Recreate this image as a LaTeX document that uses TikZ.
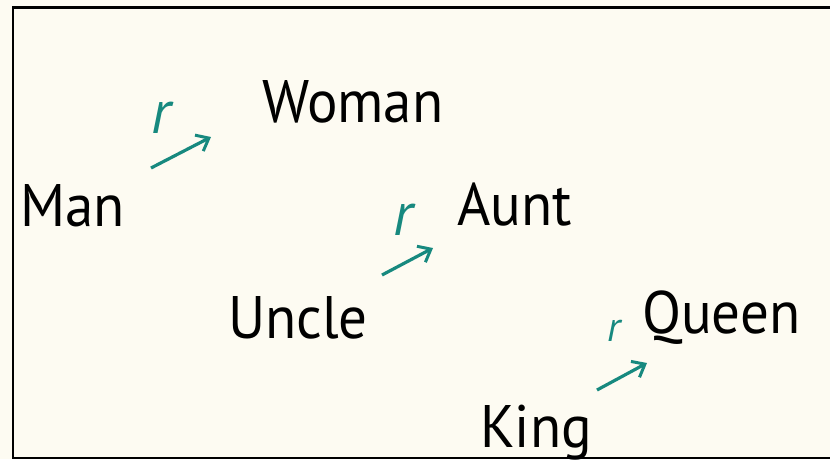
\documentclass[tikz,border=0pt]{standalone}
\usepackage{fontspec}
\setmainfont{PT Sans}[FakeStretch=0.95]
\usetikzlibrary{arrows.meta}
\definecolor{paper}{HTML}{FDFBF2}
\definecolor{relteal}{HTML}{17897F}
\tikzset{
  word/.style={anchor=base west, inner sep=0pt, font=\fontsize{60}{72}\selectfont},
  rel/.style={anchor=base west, inner sep=0pt, text=relteal, font=\fontsize{62}{72}\selectfont\itshape},
  relsmall/.style={rel, font=\fontsize{42}{48}\selectfont\itshape},
  offset/.style={draw=relteal, line width=3.2pt, -{Straight Barb[length=11pt, width=18pt, line width=3pt]}},
}
\begin{document}
\begin{tikzpicture}[x=1pt, y=-1pt]
  \fill[paper] (0,0) rectangle (830,459);
  \clip (0,0) rectangle (830,459);
  \useasboundingbox (0,0) rectangle (830,459);
  % open frame: its right side lies past the edge
  \draw[line width=2.4pt] (860,7.5) -- (13,7.5) -- (13,458) -- (860,458);

  % word pairs
  \node[word] (man)   at (20,226)  {Man};
  \node[word] (woman) at (262,122) {Woman};
  \node[word] (uncle) at (228,338) {Uncle};
  \node[word] (aunt)  at (457,225) {Aunt};
  \node[word] (king)  at (480,447) {King};
  \node[word] (queen) at (642,333) {Queen};

  % relation labels
  \node[rel] (r1) at (151,133) {r};
  \node[rel] (r2) at (393,235) {r};
  \node[relsmall] (r3) at (607,341) {r};

  % offset vectors
  \coordinate (a1) at (151,168); \coordinate (b1) at (211,137);
  \coordinate (a2) at (382,275); \coordinate (b2) at (433,248);
  \coordinate (a3) at (597,390); \coordinate (b3) at (647,363);
  \draw[offset] (a1) -- (b1);
  \draw[offset] (a2) -- (b2);
  \draw[offset] (a3) -- (b3);
\end{tikzpicture}
\end{document}
